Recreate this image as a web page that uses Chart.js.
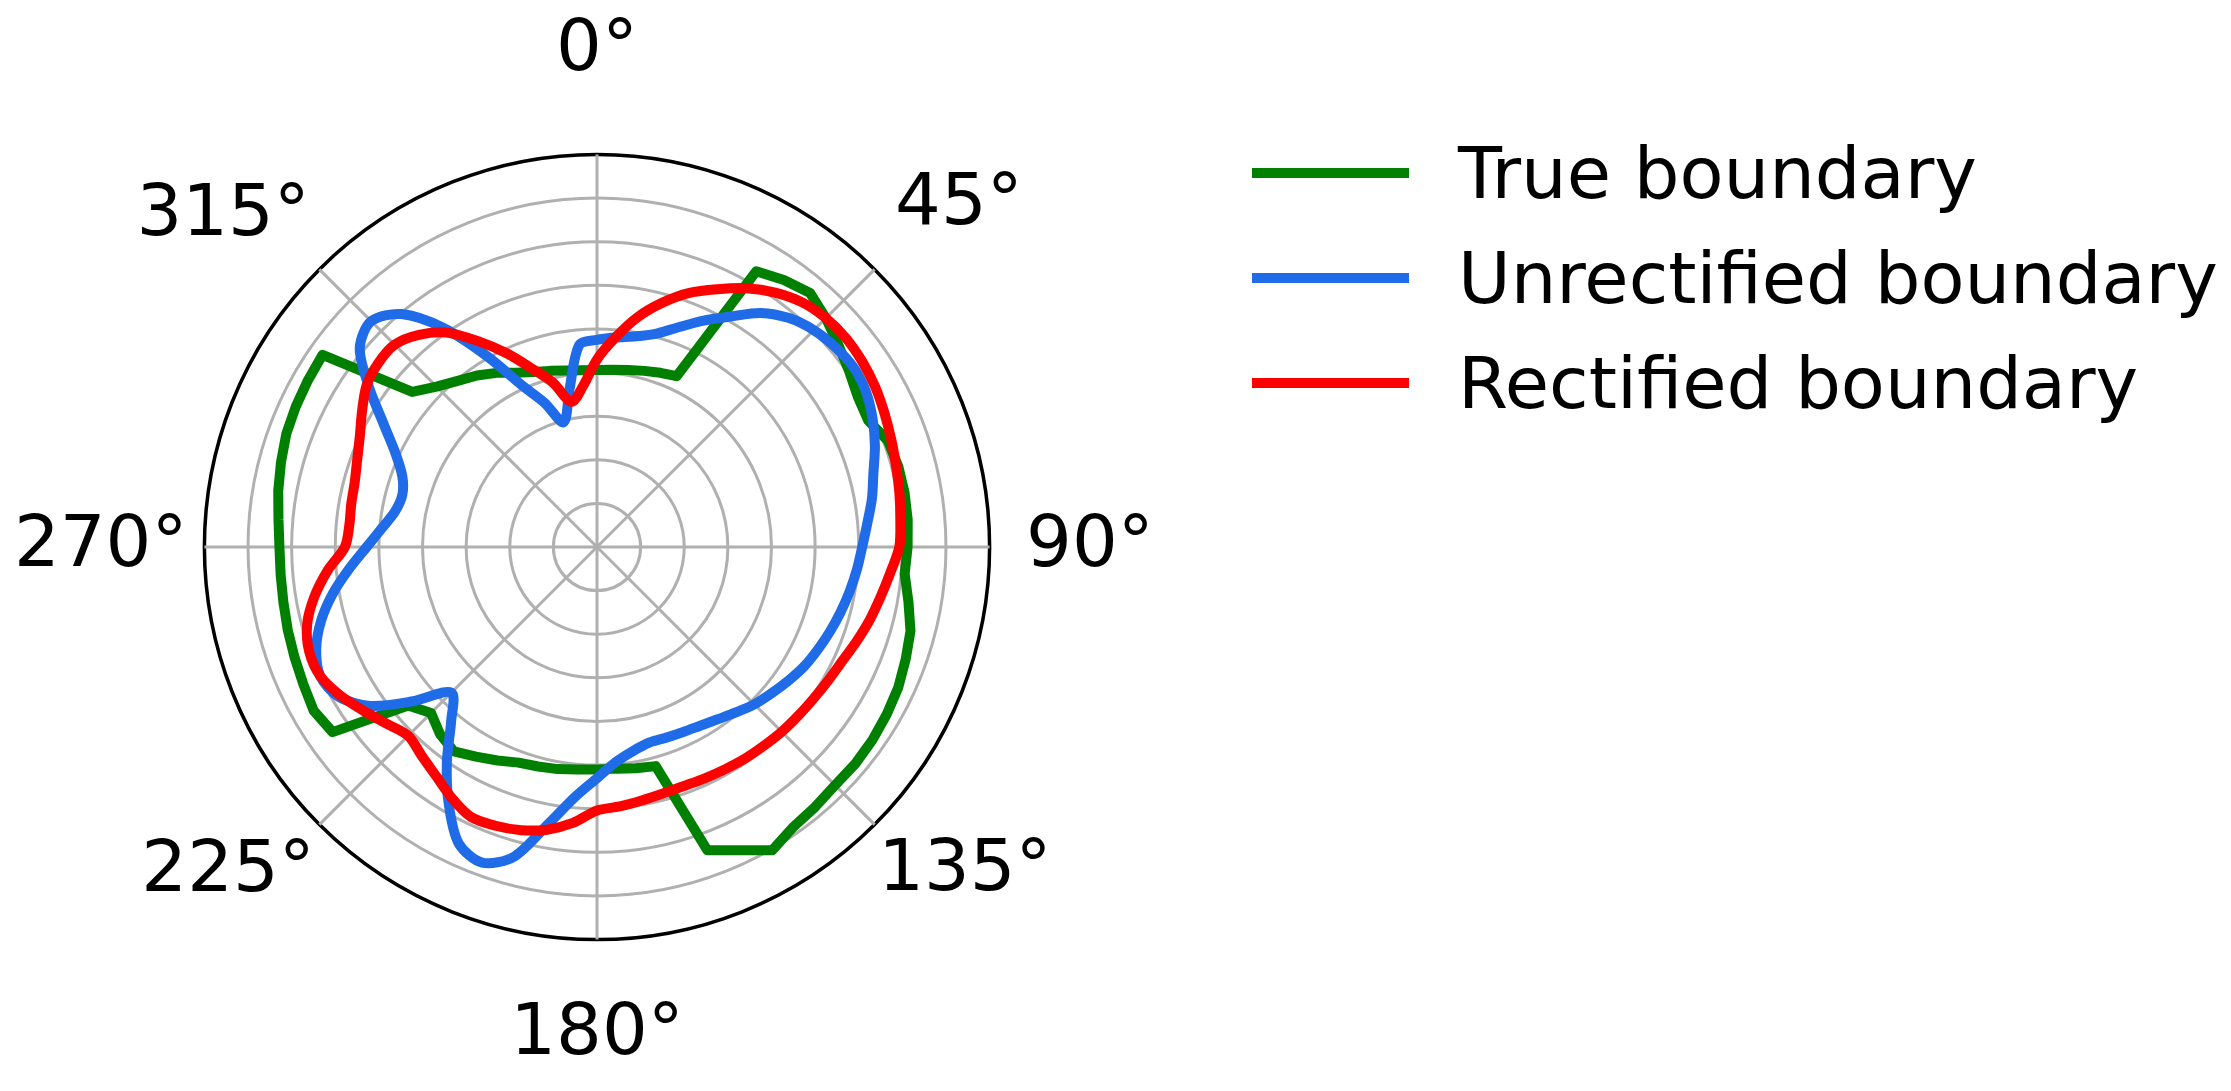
<!DOCTYPE html>
<html>
<head>
<meta charset="utf-8">
<title>Boundary polar plot</title>
<script src="https://cdn.jsdelivr.net/npm/chart.js@4.4.1/dist/chart.umd.min.js"></script>
<style>
  html, body { margin: 0; padding: 0; background: #fff; }
  body { width: 2231px; height: 1091px; position: relative; overflow: hidden; font-family: 'DejaVu Sans', sans-serif; }
  .chart-box { position: absolute; left: 0; top: 0; width: 1168px; height: 1091px; }
  .legend { position: absolute; left: 1252px; top: 0; margin: 0; padding: 0; list-style: none; }
  .legend li { position: absolute; left: 0; height: 72px; display: flex; align-items: center; white-space: nowrap; font-size: 72px; line-height: 72px; color: #000; }
  .legend .swatch { display: inline-block; width: 157px; margin-right: 49px; }
</style>
</head>
<body>
<div class="chart-box"><canvas id="polar"></canvas></div>
<ul class="legend"></ul>
<script>
// angle of every sample, clockwise from the top
const angles = [0, 5, 10, 15, 20, 25, 30, 35, 40, 45, 50, 55, 60, 65, 70, 75, 80, 85,
  90, 95, 100, 105, 110, 115, 120, 125, 130, 135, 140, 145, 150, 155, 160, 165, 170, 175,
  180, 185, 190, 195, 200, 205, 210, 215, 220, 225, 230, 235, 240, 245, 250, 255, 260, 265,
  270, 275, 280, 285, 290, 295, 300, 305, 310, 315, 320, 325, 330, 335, 340, 345, 350, 355];
const angleTicks = [0, 45, 90, 135, 180, 225, 270, 315];

const trueBoundary = [4.06, 4.08, 4.12, 4.18, 4.25, 4.32, 7.3, 7.47, 7.6, 7.42, 7.22, 7.05, 6.9, 6.86, 7.1, 7.15, 7.16, 7.15,
  7.12, 7.08, 7.25, 7.44, 7.53, 7.62, 7.67, 7.71, 7.73, 7.72, 7.78, 7.84, 8.03, 7.67, 7.4, 5.2, 5.15, 5.1,
  5.1, 5.12, 5.17, 5.21, 5.26, 5.4, 5.55, 5.72, 5.6, 5.38, 5.65, 7.4, 7.5, 7.43, 7.38, 7.34, 7.3, 7.28,
  7.28, 7.33, 7.42, 7.5, 7.58, 7.62, 7.65, 7.68, 5.53, 5.2, 4.97, 4.8, 4.61, 4.41, 4.27, 4.18, 4.11, 4.07];
const unrectifiedBoundary = [4.75, 4.82, 4.9, 5.05, 5.35, 5.72, 6.1, 6.55, 6.85, 7.03, 7.13, 7.18, 7.12, 6.97, 6.78, 6.56, 6.4, 6.22,
  6.08, 5.98, 5.88, 5.78, 5.68, 5.58, 5.48, 5.35, 5.22, 5.1, 4.95, 4.82, 4.73, 4.68, 4.65, 4.64, 4.75, 4.95,
  5.3, 5.75, 6.45, 7.35, 7.7, 7.5, 6.8, 6.0, 5.2, 4.72, 5.5, 6.35, 6.85, 7.0, 6.85, 6.55, 6.15, 5.7,
  5.28, 4.95, 4.7, 4.62, 4.75, 5.1, 5.65, 6.38, 7.1, 7.32, 6.97, 6.13, 5.06, 4.1, 3.52, 2.96, 3.65, 4.65];
const rectifiedBoundary = [4.3, 4.82, 5.35, 5.8, 6.2, 6.52, 6.85, 7.12, 7.32, 7.42, 7.45, 7.42, 7.36, 7.27, 7.18, 7.1, 7.04, 6.98,
  6.93, 6.75, 6.6, 6.47, 6.33, 6.2, 6.12, 6.06, 6.02, 5.99, 5.95, 5.92, 5.88, 5.85, 5.83, 5.85, 5.9, 5.97,
  6.04, 6.35, 6.58, 6.72, 6.8, 6.83, 6.65, 6.42, 6.25, 6.12, 6.3, 6.54, 6.8, 7.0, 7.02, 6.88, 6.58, 6.2,
  5.78, 5.7, 5.72, 5.75, 5.85, 6.0, 6.22, 6.45, 6.55, 6.56, 6.35, 6.0, 5.45, 4.9, 4.35, 3.9, 3.38, 3.7];

const R_MAX = 9;
const LINE_WIDTH = 10;
const GRID_COLOR = '#b0b0b0';
const LEGEND_TOP = 137;
const LEGEND_STEP = 104.8;
// gap between circle and each angle label (matplotlib centres them, chart.js anchors an edge)
const LABEL_PAD = { 0: 60, 45: 29, 90: 36.5, 135: 5, 180: 52.5, 225: 6.5, 270: 17, 315: 13.5 };

const makeSet = (label, data, color, tension, order) => ({
  label,
  data,
  borderColor: color,
  backgroundColor: color,
  borderWidth: LINE_WIDTH,
  borderJoinStyle: 'round',
  pointRadius: 0,
  pointHoverRadius: 0,
  fill: false,
  tension,
  order,
});

const chart = new Chart(document.getElementById('polar'), {
  type: 'radar',
  data: {
    labels: angles.map(a => a + '°'),
    datasets: [
      makeSet('True boundary', trueBoundary, '#008000', 0, 3),
      makeSet('Unrectified boundary', unrectifiedBoundary, '#1f6be8', 0.3, 2),
      makeSet('Rectified boundary', rectifiedBoundary, '#ff0000', 0.3, 1),
    ],
  },
  options: {
    responsive: true,
    maintainAspectRatio: false,
    animation: false,
    layout: { padding: { top: 5, bottom: 8, left: 0, right: 0 } },
    plugins: {
      legend: { display: false },
      tooltip: { enabled: false },
    },
    scales: {
      r: {
        min: 0,
        max: R_MAX,
        ticks: { display: false, stepSize: 1 },
        grid: {
          circular: true,
          color: ctx => (ctx.tick && ctx.tick.value === R_MAX ? '#000' : GRID_COLOR),
          lineWidth: ctx => (ctx.tick && ctx.tick.value === R_MAX ? 3.5 : 3),
        },
        angleLines: {
          color: GRID_COLOR,
          lineWidth: ctx => (angleTicks.includes(angles[ctx.index]) ? 3 : 0),
        },
        pointLabels: {
          callback: (label, i) => (angleTicks.includes(angles[i]) ? label : ''),
          padding: ctx => LABEL_PAD[angles[ctx.index]] ?? 0,
          font: { family: 'DejaVu Sans', size: 72 },
          color: '#000',
        },
      },
    },
  },
});

// html legend built from the datasets
document.querySelector('.legend').innerHTML = chart.data.datasets
  .map((ds, i) => `
    <li style="top:${LEGEND_TOP + i * LEGEND_STEP}px">
      <span class="swatch" style="height:${ds.borderWidth}px;background:${ds.borderColor}"></span>${ds.label}
    </li>`)
  .join('');
</script>
</body>
</html>
